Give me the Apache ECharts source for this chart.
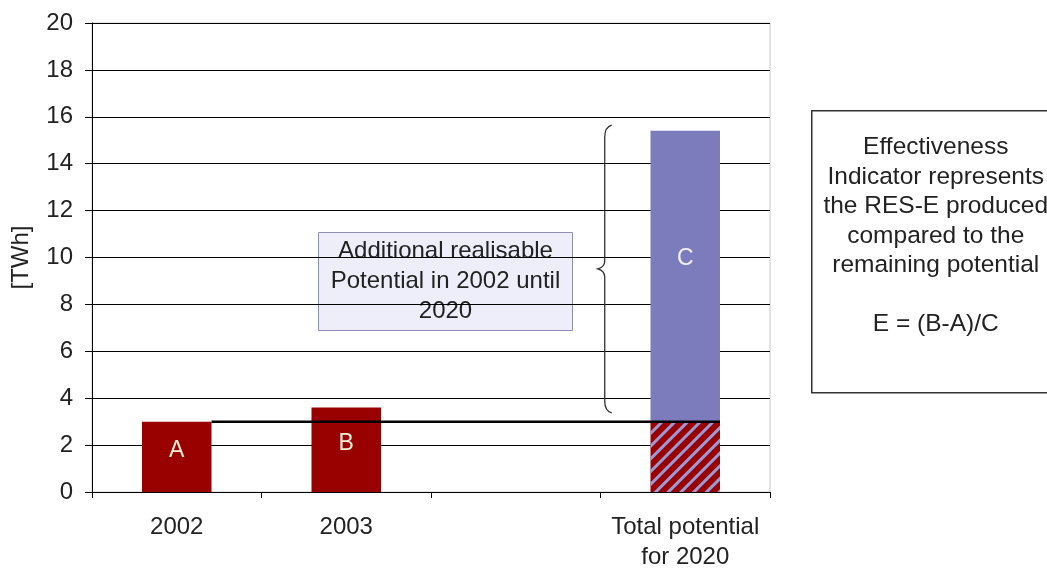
<!DOCTYPE html>
<html>
<head>
<meta charset="utf-8">
<script src="https://cdn.jsdelivr.net/npm/echarts@6/dist/echarts.min.js"></script>
<style>
html,body{margin:0;padding:0;background:#fff;}
#chart{width:1047px;height:569px;}
</style>
</head>
<body>
<div id="chart"></div>
<script>
// categories on the x axis (third slot is an empty spacer)
var categories = ['2002', '2003', '', 'Total potential\nfor 2020'];

// TWh values
var producedValues = [3.0, 3.6, '-', '-'];        // A, B
var potentialBase = ['-', '-', '-', 3.0];         // hatched part of total
var remainingPotential = ['-', '-', '-', 12.4];   // C
var producedLabels = ['A', 'B', '', ''];

// black reference line at the 2002 level: [fromCategory, toCategory, value]
var baselineData = [[0, 3, 3.0]];
// brace next to C: [category, from, to]
var braceData = [[3, 3.37, 15.65]];

var boxText = 'Additional realisable\nPotential in 2002 until\n2020';
var noteText = 'Effectiveness\nIndicator represents\nthe RES-E produced\ncompared to the\nremaining potential\n\nE = (B-A)/C';

var FONT = '"Liberation Sans", Arial, sans-serif';
var BAR_FRAC = 0.41;

var chart = echarts.init(document.getElementById('chart'));

var option = {
  animation: false,
  backgroundColor: '#fff',
  grid: {
    left: 92, right: 277, top: 23, bottom: 77,
    outerBoundsMode: 'none',
    containLabel: false,
    show: true, borderColor: '#c8c8c8', borderWidth: 1
  },
  xAxis: {
    type: 'category',
    data: categories,
    axisLine: {lineStyle: {color: '#000', width: 1}},
    axisTick: {show: true, length: 6, lineStyle: {color: '#000'}},
    axisLabel: {
      color: '#222', fontSize: 24, fontFamily: FONT,
      margin: 20, lineHeight: 30, interval: 0
    }
  },
  yAxis: {
    type: 'value',
    min: 0, max: 20, interval: 2,
    name: '[TWh]',
    nameLocation: 'middle',
    nameGap: 59,
    nameRotate: 90,
    nameTextStyle: {color: '#222', fontSize: 24, fontFamily: FONT},
    axisLine: {show: true, lineStyle: {color: '#000', width: 1}},
    axisTick: {show: true, length: 7, lineStyle: {color: '#000'}},
    axisLabel: {color: '#222', fontSize: 24, fontFamily: FONT, margin: 19},
    splitLine: {lineStyle: {color: '#000', width: 1}}
  },
  series: [
    {
      name: 'produced',
      type: 'bar',
      stack: 'tot',
      barWidth: '41%',
      data: producedValues,
      itemStyle: {color: '#990000'},
      label: {
        show: true, position: 'inside', offset: [0, -6],
        color: '#f6eed8', fontSize: 23, fontFamily: FONT,
        formatter: function (p) { return producedLabels[p.dataIndex]; }
      }
    },
    {
      name: 'potential base',
      type: 'bar',
      stack: 'tot',
      data: potentialBase,
      itemStyle: {
        color: '#990000',
        decal: {
          symbol: 'rect', symbolSize: 1,
          color: '#9a9ad8',
          dashArrayX: [1, 0],
          dashArrayY: [3, 6],
          rotation: -Math.PI / 4
        }
      }
    },
    {
      name: 'remaining',
      type: 'bar',
      stack: 'tot',
      data: remainingPotential,
      itemStyle: {color: '#7c7cbc'},
      label: {
        show: true, position: 'inside', offset: [0, -18],
        color: '#f2f0ff', fontSize: 23, fontFamily: FONT,
        formatter: 'C'
      }
    },
    {
      name: 'baseline',
      type: 'custom',
      data: baselineData,
      encode: {x: [0, 1], y: 2},
      z: 5,
      renderItem: function (params, api) {
        var a = api.coord([api.value(0), api.value(2)]);
        var b = api.coord([api.value(1), api.value(2)]);
        var half = api.size([1, 0])[0] * BAR_FRAC / 2;
        return {
          type: 'line',
          shape: {x1: a[0] + half, y1: a[1], x2: b[0] + half, y2: b[1]},
          style: {stroke: '#000', lineWidth: 2.5}
        };
      }
    },
    {
      name: 'brace',
      type: 'custom',
      data: braceData,
      encode: {x: 0, y: [1, 2]},
      z: 5,
      renderItem: function (params, api) {
        var lo = api.coord([api.value(0), api.value(1)]);
        var hi = api.coord([api.value(0), api.value(2)]);
        var band = api.size([1, 0])[0];
        var x = lo[0] - band * 0.475;
        var top = hi[1], bot = lo[1], mid = (top + bot) / 2;
        var d = 'M' + (x + 7) + ' ' + top +
          ' Q' + x + ' ' + (top + 2) + ' ' + x + ' ' + (top + 12) +
          ' L' + x + ' ' + (mid - 8) +
          ' Q' + x + ' ' + (mid - 2) + ' ' + (x - 7) + ' ' + mid +
          ' Q' + x + ' ' + (mid + 2) + ' ' + x + ' ' + (mid + 8) +
          ' L' + x + ' ' + (bot - 12) +
          ' Q' + x + ' ' + (bot - 2) + ' ' + (x + 7) + ' ' + bot;
        return {
          type: 'path',
          shape: {pathData: d},
          style: {stroke: '#333', lineWidth: 1.3, fill: null}
        };
      }
    }
  ],
  graphic: [
    {
      type: 'group',
      left: 318, top: 232,
      z: 10,
      children: [
        {
          type: 'rect',
          shape: {x: 0, y: 0, width: 254, height: 98},
          style: {fill: '#eeeefa', stroke: '#8e8eb4', lineWidth: 1}
        },
        {
          type: 'text',
          x: 127, y: 49,
          style: {
            text: boxText, fill: '#222', font: '24px ' + FONT,
            align: 'center', verticalAlign: 'middle', lineHeight: 30
          }
        }
      ]
    },
    {
      type: 'group',
      left: 811, top: 110,
      z: 10,
      children: [
        {
          type: 'rect',
          shape: {x: 0, y: 0, width: 262, height: 282},
          style: {fill: '#fff', stroke: '#333', lineWidth: 1.5}
        },
        {
          type: 'text',
          x: 124, y: 22,
          style: {
            text: noteText, fill: '#222', font: '24.5px ' + FONT,
            align: 'center', verticalAlign: 'top', lineHeight: 29.5
          }
        }
      ]
    }
  ]
};

chart.setOption(option);
</script>
</body>
</html>
